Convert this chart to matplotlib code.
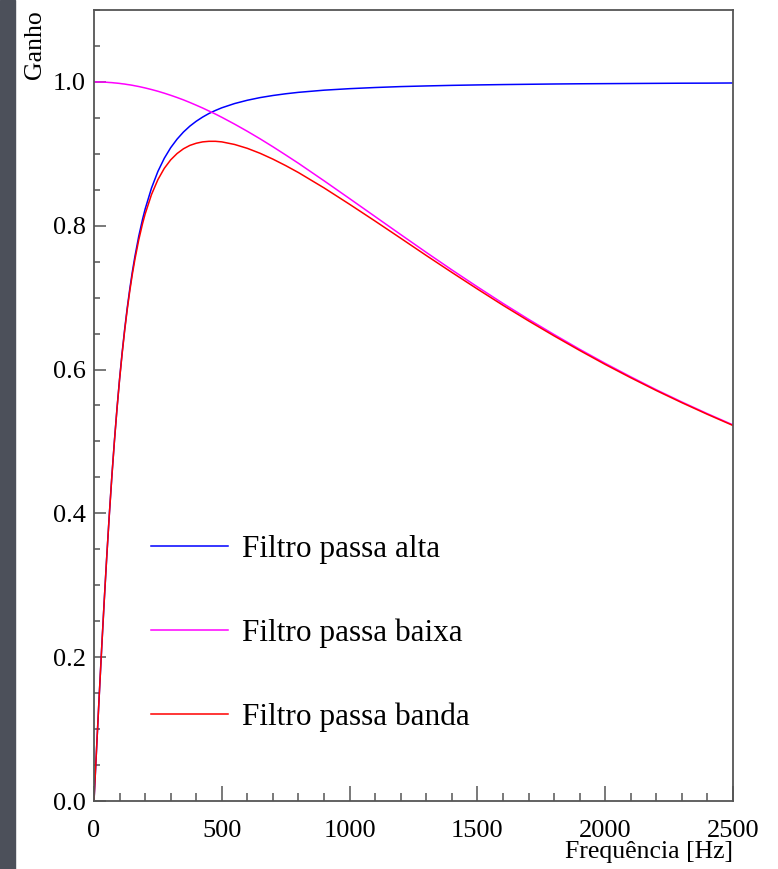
import matplotlib
matplotlib.use("Agg")
import matplotlib.pyplot as plt
from matplotlib.patches import Rectangle
from matplotlib.ticker import MultipleLocator, FormatStrFormatter

# frequencias [Hz]
freq = [0, 5, 10, 20, 30, 40, 50, 60, 70, 80, 90, 100, 110, 120, 130, 140, 150,
        160, 175, 190, 200, 225, 250, 275, 300, 325, 350, 375, 400, 425, 450,
        475, 500, 550, 600, 650, 700, 750, 800, 900, 1000, 1100, 1200, 1300,
        1400, 1500, 1600, 1700, 1800, 1900, 2000, 2100, 2200, 2300, 2400, 2500]

ganho_alta = [0.0, 0.0362, 0.0723, 0.1434, 0.2124, 0.2784, 0.3406, 0.3987, 0.4524,
              0.5015, 0.5463, 0.5869, 0.6233, 0.6562, 0.6857, 0.7122, 0.736, 0.7572,
              0.7853, 0.8091, 0.8231, 0.8524, 0.8755, 0.8938, 0.9085, 0.9204, 0.9303,
              0.9385, 0.9453, 0.9511, 0.9561, 0.9603, 0.964, 0.9699, 0.9745, 0.9782,
              0.9811, 0.9835, 0.9855, 0.9885, 0.9906, 0.9922, 0.9935, 0.9944, 0.9952,
              0.9958, 0.9963, 0.9967, 0.9971, 0.9974, 0.9976, 0.9978, 0.998, 0.9982,
              0.9983, 0.9985]

ganho_baixa = [1.0, 1.0, 1.0, 0.9999, 0.9998, 0.9997, 0.9995, 0.9992, 0.999, 0.9986,
               0.9983, 0.9979, 0.9974, 0.997, 0.9964, 0.9959, 0.9953, 0.9946, 0.9936,
               0.9924, 0.9916, 0.9894, 0.987, 0.9843, 0.9814, 0.9783, 0.975, 0.9714,
               0.9676, 0.9637, 0.9595, 0.9553, 0.9508, 0.9413, 0.9313, 0.9208, 0.9098,
               0.8984, 0.8868, 0.8625, 0.8377, 0.8127, 0.7877, 0.7629, 0.7386, 0.715,
               0.692, 0.6699, 0.6487, 0.6282, 0.6086, 0.5899, 0.5719, 0.5549, 0.5386,
               0.523]

ganho_banda = [0.0, 0.0362, 0.0723, 0.1434, 0.2124, 0.2783, 0.3404, 0.3984, 0.4519,
               0.5008, 0.5454, 0.5857, 0.6217, 0.6542, 0.6833, 0.7093, 0.7325, 0.7531,
               0.7802, 0.803, 0.8162, 0.8434, 0.8641, 0.8798, 0.8916, 0.9004, 0.907,
               0.9117, 0.9147, 0.9166, 0.9174, 0.9174, 0.9166, 0.913, 0.9076, 0.9007,
               0.8926, 0.8836, 0.8739, 0.8526, 0.8298, 0.8064, 0.7826, 0.7586, 0.7351,
               0.712, 0.6894, 0.6677, 0.6468, 0.6266, 0.6071, 0.5886, 0.5708, 0.5539,
               0.5377, 0.5222]

nomes = ["Filtro passa alta", "Filtro passa baixa", "Filtro passa banda"]
cores = ["#0000ff", "#ff00ff", "#ff0000"]

plt.rcParams['font.family'] = ['Liberation Serif', 'DejaVu Serif']

fig = plt.figure(figsize=(7.78, 8.69), dpi=100)
fig.patches.append(Rectangle((0, 0), 15/778, 1, transform=fig.transFigure,
                             color="#4c505a", zorder=-10))

ax = fig.add_axes([94/778, 1 - 801/869, (733-94)/778, (801-10)/869])

for y, nome, cor in zip([ganho_alta, ganho_baixa, ganho_banda], nomes, cores):
	ax.plot(freq, y, color=cor, lw=1.1, label=nome)

ax.set_xlim(0, 2500)
ax.set_ylim(0, 1.1)

ax.xaxis.set_major_locator(MultipleLocator(500))
ax.xaxis.set_minor_locator(MultipleLocator(100))
ax.yaxis.set_major_locator(MultipleLocator(0.2))
ax.yaxis.set_minor_locator(MultipleLocator(0.05))
ax.yaxis.set_major_formatter(FormatStrFormatter('%.1f'))

ax.tick_params(axis='x', which='major', direction='in', length=11, width=1.1,
               color='#555555', labelsize=19, pad=14)
ax.tick_params(axis='x', which='minor', direction='in', length=5.8, width=1.1,
               color='#555555')
ax.tick_params(axis='y', which='major', direction='in', length=8.6, width=1.1,
               color='#555555', labelsize=19, pad=6)
ax.tick_params(axis='y', which='minor', direction='in', length=4.3, width=1.1,
               color='#555555')

for s in ax.spines.values():
	s.set_color('#555555')
	s.set_linewidth(1.3)

# titulo do eixo x, alinhado a direita como no ROOT
ax.text(1.0, (801-858)/791, "Frequência [Hz]", transform=ax.transAxes,
        fontsize=18.5, ha='right', va='baseline')
ax.set_ylabel("Ganho", fontsize=18.5, loc='top', labelpad=5)

ax.legend(loc='upper left', bbox_to_anchor=(0.089, 0.336), frameon=False,
          fontsize=22.5, handlelength=2.46, handletextpad=0.47, labelspacing=1.74,
          borderpad=0, borderaxespad=0)

fig.savefig("out.png", dpi=100)
